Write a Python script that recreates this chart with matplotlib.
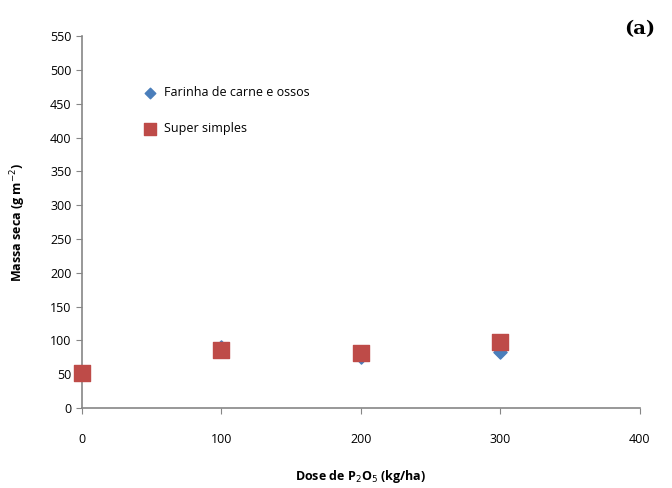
import matplotlib
matplotlib.use('Agg')
import matplotlib.pyplot as plt

# Data
doses = [0, 100, 200, 300]
farinha = [52, 90, 75, 83]
super_simples = [52, 86, 81, 97]

y_ticks = list(range(0, 551, 50))
x_ticks = list(range(0, 401, 100))

plt.rcParams['font.family'] = ['Open Sans', 'DejaVu Sans']

fig = plt.figure(figsize=(6.72, 4.88), dpi=100)
ax = fig.add_axes([0.122, 0.164, 0.830, 0.762])

ax.scatter(doses, farinha, marker='D', s=45, color='#4a7ebb', zorder=3,
           clip_on=False, label='Farinha de carne e ossos')
ax.scatter(doses, super_simples, marker='s', s=120, color='#be4b48', zorder=4,
           clip_on=False, label='Super simples')

ax.set_xlim(0, 400)
ax.set_ylim(0, 550)
ax.set_xticks(x_ticks)
ax.set_yticks(y_ticks)

for side in ['top', 'right']:
    ax.spines[side].set_visible(False)
for side in ['left', 'bottom']:
    ax.spines[side].set_color('#868686')
    ax.spines[side].set_linewidth(1.2)
ax.tick_params(colors='#868686', labelcolor='black', labelsize=9, length=4)
ax.tick_params(axis='x', pad=14)

ax.set_xlabel('Dose de P$_2$O$_5$ (kg/ha)', fontsize=9, fontweight='bold', labelpad=16)
ax.set_ylabel('Massa seca (g m$^{-2}$)', fontsize=9, fontweight='bold', labelpad=16)

ax.legend(loc='upper left', bbox_to_anchor=(0.08, 0.895), frameon=False,
          fontsize=9, handletextpad=0.1, labelspacing=1.8, markerscale=0.8)

fig.text(0.975, 0.94, '(a)', fontsize=14, fontweight='bold', family='DejaVu Serif',
         ha='right', va='center')

fig.savefig('out.png', dpi=100)
